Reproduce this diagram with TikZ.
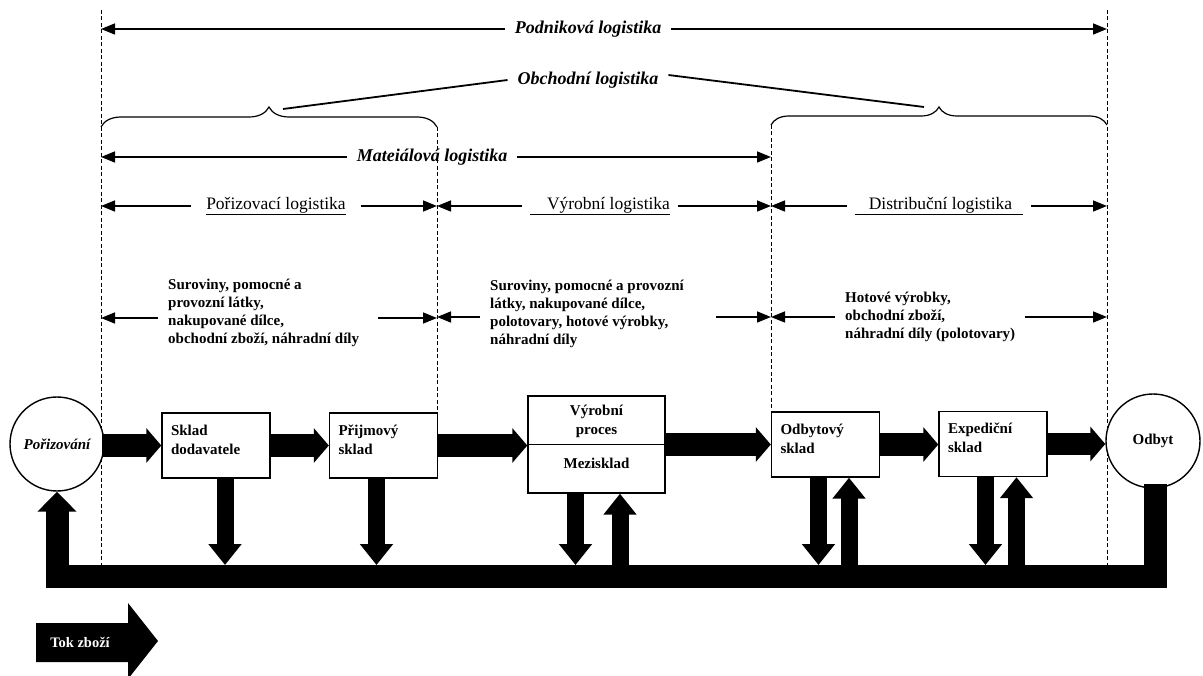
\documentclass[tikz,border=0pt]{standalone}
\usepackage{fontspec}
\setmainfont{Liberation Serif}
\usetikzlibrary{arrows.meta, positioning, decorations.pathreplacing}
\pgfdeclarelayer{bg}
\pgfsetlayers{bg,main}
\tikzset{
  stockbox/.style={rectangle, draw=black, line width=1.4pt, fill=white, minimum width=108pt, minimum height=65pt, text width=90pt, align=left, inner sep=0pt, text depth=31pt, font=\fontsize{15}{19}\selectfont\bfseries},
  endnode/.style={circle, draw=black, line width=1.4pt, fill=white, minimum size=94pt, inner sep=0pt, font=\fontsize{15}{18}\selectfont\bfseries},
  flowarrow/.style={line width=22pt, -{Triangle[length=15pt,width=34pt]}},
  vertarrow/.style={line width=17pt, -{Triangle[length=21pt,width=32pt]}},
  returnarrow/.style={line width=23pt, -{Triangle[length=20pt,width=38pt]}},
  spanarrow/.style={line width=1.5pt, -{Triangle[length=14pt,width=11pt]}},
  limitline/.style={dash pattern=on 4pt off 2.5pt, line width=0.8pt},
  levellabel/.style={font=\fontsize{18}{21}\selectfont\bfseries\itshape, inner xsep=10pt},
  partlabel/.style={font=\fontsize{17.5}{21}\selectfont, inner xsep=8pt},
  goodslabel/.style={align=left, font=\fontsize{15}{18}\selectfont\bfseries, inner xsep=10pt, inner ysep=0pt},
}

\begin{document}
\begin{tikzpicture}[x=1pt, y=-1pt]
\useasboundingbox (0,0) rectangle (1203,676);

% area limits
\coordinate (limA) at (101,10);
\coordinate (limB) at (437,127);
\coordinate (limC) at (771,125);
\coordinate (limD) at (1107,10);
\coordinate (tipL) at (283,109);
\coordinate (tipR) at (924,107);

% flow of goods
\node[endnode] (poriz) at (57,444) {\itshape Pořizování};
\node[stockbox] (sklD) at (216,445.5) {Sklad\\dodavatele};
\node[stockbox] (prijem) at (383.5,445.5) {Přijmový\\sklad};
\node[stockbox, minimum width=137pt, minimum height=97pt, text depth=0pt] (vyroba) at (596.5,444.5) {};
\node[font=\fontsize{15}{19}\selectfont\bfseries, align=center] (vyrProc) at (596.5,421) {Výrobní\\proces};
\node[font=\fontsize{15}{19}\selectfont\bfseries] (mezi) at (596.5,463) {Mezisklad};
\node[stockbox] (odbSklad) at (825.5,444.5) {Odbytový\\sklad};
\node[stockbox] (expSklad) at (993,444) {Expediční\\sklad};
\node[endnode] (odbyt) at (1153,441) {Odbyt};
\draw (vyroba.west) -- (vyroba.east);

\draw[flowarrow] ([xshift=-3pt]poriz.east |- sklD.west) -- (sklD.west);
\draw[flowarrow] (sklD.east) -- (prijem.west);
\draw[flowarrow] (prijem.east) -- (prijem.east -| vyroba.west);
\draw[flowarrow] (vyroba.east) -- (odbSklad.west);
\draw[flowarrow] (odbSklad.east) -- (odbSklad.east -| expSklad.west);
\draw[flowarrow] (expSklad.east) -- (expSklad.east -| odbyt.west);

\coordinate (dn1) at (225,565);
\coordinate (dn2) at (376.5,565);
\coordinate (dn3) at (575.5,565);
\coordinate (up3) at (620,565);
\coordinate (dn4) at (818.5,565);
\coordinate (up4) at (849,565);
\coordinate (dn5) at (985.5,565);
\coordinate (up5) at (1016.5,565);
\draw[vertarrow] (sklD.south -| dn1) -- (dn1);
\draw[vertarrow] (prijem.south -| dn2) -- (dn2);
\draw[vertarrow] (vyroba.south -| dn3) -- (dn3);
\draw[vertarrow] (up3) -- (vyroba.south -| up3);
\draw[vertarrow] (odbSklad.south -| dn4) -- (dn4);
\draw[vertarrow] (up4) -- (odbSklad.south -| up4);
\draw[vertarrow] (expSklad.south -| dn5) -- (dn5);
\draw[vertarrow] (up5) -- (expSklad.south -| up5);

\coordinate (loopR) at (1155,576.5);
\coordinate (loopL) at (57,576.5);
\draw[returnarrow] ([yshift=5pt]odbyt.south -| loopR) -- (loopR) -- (loopL) -- (poriz.south);

% logistics levels
\node[levellabel] (podnik) at (588,29) {Podniková logistika};
\draw[spanarrow] (podnik.west) -- (podnik.west -| limA);
\draw[spanarrow] (podnik.east) -- (podnik.east -| limD);
\node[levellabel] (obchod) at (588,80) {Obchodní logistika};
\draw[line width=1.8pt] (obchod.west) -- (tipL);
\draw[line width=1.8pt] ([yshift=5pt]obchod.east) -- (tipR);
\node[levellabel] (mater) at (432,157) {Mateiálová logistika};
\draw[spanarrow] (mater.west) -- (mater.west -| limA);
\draw[spanarrow] (mater.east) -- (mater.east -| limC);

\node[partlabel, inner xsep=15pt] (porLog) at (276,206) {\underline{Pořizovací logistika}};
\draw[spanarrow] (porLog.west) -- (porLog.west -| limA);
\draw[spanarrow] (porLog.east) -- (porLog.east -| limB);
\node[partlabel] (vyrLog) at (600,206) {\underline{\kern17pt Výrobní logistika}};
\draw[spanarrow] (vyrLog.west) -- (vyrLog.west -| limB);
\draw[spanarrow] (vyrLog.east) -- (vyrLog.east -| limC);
\node[partlabel] (distLog) at (939,206) {\underline{\kern14pt Distribuční logistika\kern11pt}};
\draw[spanarrow] (distLog.west) -- (distLog.west -| limC);
\draw[spanarrow] (distLog.east) -- (distLog.east -| limD);

% goods in each part
\node[goodslabel, anchor=west] (goods1) at (158,313) {Suroviny, pomocné a\\provozní látky,\\nakupované dílce,\\obchodní zboží, náhradní díly};
\draw[spanarrow] ([yshift=-5pt]goods1.west) -- ([yshift=-5pt]goods1.west -| limA);
\draw[spanarrow, shorten <=9pt] ([yshift=-5pt]goods1.east) -- ([yshift=-5pt]goods1.east -| limB);
\node[goodslabel, anchor=west] (goods2) at (480,314) {Suroviny, pomocné a provozní\\látky, nakupované dílce,\\polotovary, hotové výrobky,\\náhradní díly};
\draw[spanarrow] ([yshift=-3pt]goods2.west) -- ([yshift=-3pt]goods2.west -| limB);
\draw[spanarrow, shorten <=22pt] ([yshift=-3pt]goods2.east) -- ([yshift=-3pt]goods2.east -| limC);
\node[goodslabel, anchor=west] (goods3) at (835,317) {Hotové výrobky,\\obchodní zboží,\\náhradní díly (polotovary)};
\draw[spanarrow] (goods3.west) -- (goods3.west -| limC);
\draw[spanarrow] (goods3.east) -- (goods3.east -| limD);

% legend
\fill (36,623) -- (128,623) -- (128,603) -- (158,641) -- (128,679) -- (128,662) -- (36,662) -- cycle;
\node[text=white, font=\fontsize{14.5}{17}\selectfont\bfseries] (tok) at (80,642) {Tok zboží};

\begin{pgfonlayer}{bg}
\draw[limitline] (limA) -- (limA |- loopL);
\draw[limitline] (limB) -- (limB |- prijem.north);
\draw[limitline] (limC) -- (limC |- odbSklad.north);
\draw[limitline] (limD) -- (limD |- loopR);
\draw[decorate, decoration={brace, amplitude=20pt}, line width=1.2pt] (limA |- limB) -- (limB);
\draw[decorate, decoration={brace, amplitude=18pt}, line width=1.2pt] (limC) -- (limD |- limC);
\end{pgfonlayer}
\end{tikzpicture}
\end{document}
